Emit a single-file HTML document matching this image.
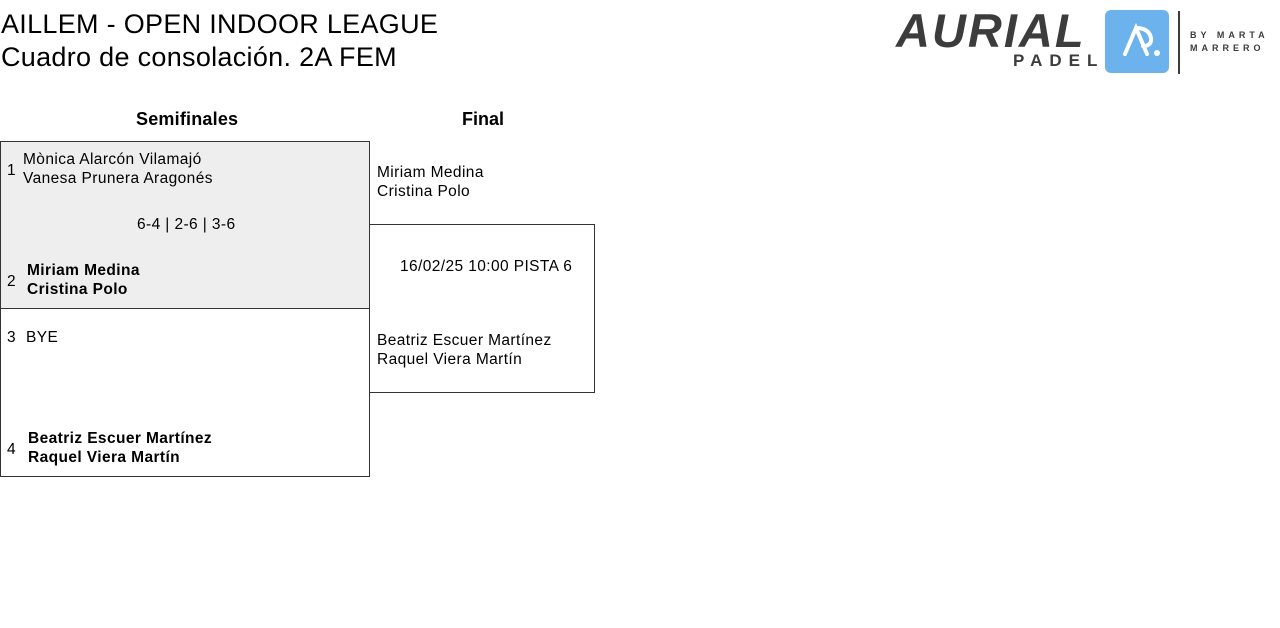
<!DOCTYPE html>
<html><head><meta charset="utf-8"><style>
body{margin:0;width:1280px;height:628px;background:#fff;font-family:"Liberation Sans",sans-serif;color:#000;position:relative;overflow:hidden}
.a{position:absolute;white-space:nowrap}
.t{font-size:27px;line-height:33px;left:1px;top:8px;letter-spacing:0.3px}
.box{position:absolute;border:1px solid #333;box-sizing:border-box}
.s{font-size:15.5px;line-height:19px;letter-spacing:0.4px}
.b{font-weight:bold}
</style></head><body>
<div class="a t">AILLEM - OPEN INDOOR LEAGUE<br>Cuadro de consolación. 2A FEM</div>

<!-- logo -->
<div class="a" style="left:896px;top:6px;font-size:47px;font-weight:bold;font-style:italic;color:#3c3c3c;letter-spacing:2px;line-height:50px">AURIAL</div>
<div class="a" style="left:1013px;top:51px;font-size:17px;font-weight:bold;color:#3c3c3c;letter-spacing:7px">PADEL</div>
<div class="a" style="left:1105px;top:10px;width:64px;height:63px;background:#6cb2ec;border-radius:6px"></div>
<svg class="a" style="left:1105px;top:10px" width="64" height="63"><path d="M20 44 L31 18 L42 44" stroke="#fff" stroke-width="4" fill="none" stroke-linecap="round"/><path d="M31 18 Q44 18 46 28 Q47 36 38 36" stroke="#fff" stroke-width="4" fill="none" stroke-linecap="round"/><circle cx="52" cy="43" r="3" fill="#fff"/></svg>
<div class="a" style="left:1178px;top:11px;width:2px;height:63px;background:#3c3c3c"></div>
<div class="a" style="left:1190px;top:29px;font-size:9px;font-weight:bold;color:#3c3c3c;letter-spacing:4px;line-height:13px">BY MARTA<br>MARRERO</div>

<div class="a" style="left:136px;top:109px;font-size:18px;font-weight:bold;letter-spacing:0.2px">Semifinales</div>
<div class="a" style="left:462px;top:109px;font-size:18px;font-weight:bold">Final</div>

<div class="box" style="left:0;top:141px;width:370px;height:168px;background:#eee"></div>
<div class="box" style="left:0;top:308px;width:370px;height:169px"></div>
<div class="box" style="left:369px;top:224px;width:226px;height:169px"></div>

<div class="a s" style="left:7px;top:161px">1</div>
<div class="a s" style="left:23px;top:150px">Mònica Alarcón Vilamajó<br>Vanesa Prunera Aragonés</div>
<div class="a s" style="left:137px;top:215px">6-4 | 2-6 | 3-6</div>
<div class="a s" style="left:7px;top:272px">2</div>
<div class="a s b" style="left:27px;top:261px">Miriam Medina<br>Cristina Polo</div>
<div class="a s" style="left:7px;top:328px">3</div>
<div class="a s" style="left:26px;top:328px">BYE</div>
<div class="a s" style="left:7px;top:440px">4</div>
<div class="a s b" style="left:28px;top:429px">Beatriz Escuer Martínez<br>Raquel Viera Martín</div>

<div class="a s" style="left:377px;top:163px">Miriam Medina<br>Cristina Polo</div>
<div class="a s" style="left:400px;top:257px">16/02/25 10:00 PISTA 6</div>
<div class="a s" style="left:377px;top:331px">Beatriz Escuer Martínez<br>Raquel Viera Martín</div>
</body></html>
